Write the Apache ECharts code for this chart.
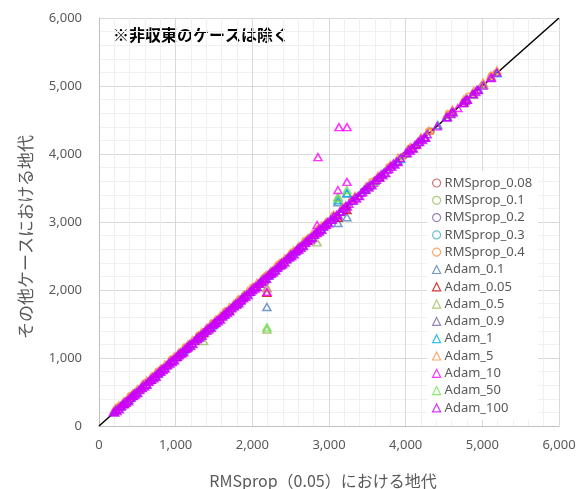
<!DOCTYPE html>
<html>
<head>
<meta charset="utf-8">
<script src="https://cdn.jsdelivr.net/npm/echarts@6/dist/echarts.min.js"></script>
<style>
  html, body { margin: 0; padding: 0; background: #fff; }
  #chart { width: 583px; height: 489px; }
</style>
</head>
<body>
<div id="chart"></div>
<script>
// Generation reached by RMSprop(0.05) (x) vs. the generation reached by each other setting (y)
const axisTicks = [0, 1000, 2000, 3000, 4000, 5000, 6000];
const diagonal = [[0, 0], [6000, 6000]];

const rmsprop008 = [[230,228],[480,476],[760,764],[1040,1036],[1310,1316],[1590,1586],[1870,1874],[2140,2136],[2420,2426],[2700,2694],[2960,2966],[3240,3234],[3610,3616],[3980,3974],[4330,4336],[4780,4774],[5180,5186]];
const rmsprop01 = [[260,266],[540,534],[820,826],[1090,1084],[1370,1376],[1650,1644],[1920,1926],[2200,2194],[2480,2486],[2750,2744],[3020,3026],[3380,3374],[3750,3756],[4100,4094],[4560,4566],[4900,4894]];
const rmsprop02 = [[210,206],[500,506],[790,784],[1070,1076],[1350,1344],[1630,1636],[1900,1894],[2180,2186],[2460,2454],[2730,2736],[3000,2994],[3300,3306],[3680,3674],[4060,4066],[4600,4594],[5010,5016]];
const rmsprop03 = [[300,296],[580,586],[860,854],[1130,1136],[1410,1404],[1690,1696],[1960,1954],[2240,2246],[2520,2514],[2790,2796],[3090,3084],[3450,3456],[3840,3834],[4200,4206],[4620,4614],[5110,5116]];
const rmsprop04 = [[250,285],[420,454],[600,636],[780,814],[950,986],[1130,1164],[1300,1336],[1480,1514],[1650,1686],[1830,1864],[2000,2036],[2180,2214],[2350,2386],[2530,2564],[2700,2736],[2880,2914],[3060,3096],[3300,3334],[3560,3596],[3780,3814],[4050,4086],[4300,4334],[4560,4596],[4820,4854],[5120,5156]];

const adam01 = [[280,284],[620,616],[960,964],[1300,1296],[1640,1644],[1980,1976],[2320,2324],[2660,2656],[2190,1750],[3117,3290],[3117,2985],[3234,3070],[3234,3420],[3520,3524],[3900,3896],[4420,4424],[4950,4946]];
const adam005 = [[330,326],[680,684],[1020,1016],[1360,1364],[1700,1696],[2040,2044],[2190,1960],[2380,2376],[2720,2724],[3117,3060],[3234,3175],[3660,3656],[4140,4144],[4760,4756]];
const adam05 = [[360,364],[710,706],[1050,1054],[1365,1250],[1420,1416],[1760,1764],[2100,2096],[2190,1420],[2440,2444],[2780,2776],[2845,2700],[3117,3370],[3560,3564],[4010,4006],[4590,4594],[5020,5016]];
const adam09 = [[390,386],[740,744],[1080,1076],[1450,1454],[1800,1796],[2160,2164],[2500,2496],[2860,2864],[3150,3146],[3700,3704],[4250,4246],[4800,4804]];
const adam1 = [[420,424],[770,766],[1110,1114],[1480,1476],[1830,1834],[2190,2030],[2220,2216],[2560,2564],[2900,2896],[3117,3320],[3234,3425],[3480,3484],[3930,3926],[4540,4544],[5190,5186]];
const adam5 = [
  [200,242],[260,304],[320,360],[380,424],[440,482],[500,544],[560,600],[620,664],[680,722],[740,784],
  [800,840],[860,904],[920,962],[980,1024],[1040,1080],[1100,1144],[1160,1202],[1220,1264],[1280,1320],[1340,1384],
  [1400,1442],[1460,1504],[1520,1560],[1580,1624],[1640,1682],[1700,1744],[1760,1800],[1820,1864],[1880,1922],[1940,1984],
  [2000,2040],[2060,2104],[2120,2162],[2180,2224],[2190,2030],[2240,2280],[2300,2344],[2360,2402],[2420,2464],[2480,2520],
  [2540,2584],[2600,2642],[2660,2704],[2720,2760],[2780,2824],[2840,2882],[2900,2944],[2960,3000],[3060,3104],[3180,3222],
  [3340,3384],[3480,3522],[3640,3684],[3800,3842],[3900,3944],[4060,4102],[4200,4244],[4300,4342],[4540,4584],[4610,4652],
  [4760,4804],[4890,4932],[5010,5052],[5110,5154],[5190,5232]
];
const adam10 = [[450,446],[800,804],[1150,1146],[1500,1504],[1850,1846],[2190,1975],[2250,2254],[2600,2596],[2845,2955],[2856,3954],[3117,3470],[3130,4395],[3234,3590],[3235,4395],[3580,3576],[4080,4084],[4680,4676],[5120,5124]];
const adam50 = [[480,484],[830,826],[1180,1184],[1530,1526],[1880,1884],[2190,1450],[2280,2276],[2630,2634],[3117,3350],[3234,3470],[3600,3596],[4180,4184],[4880,4876]];
const adam100 = [
  [190,204],[205,199],[220,240],[235,221],[250,256],[265,245],[280,290],[295,295],
  [310,324],[325,319],[340,360],[355,341],[370,376],[385,365],[400,410],[415,415],
  [430,444],[445,439],[460,480],[475,461],[490,496],[505,485],[520,530],[535,535],
  [550,564],[565,559],[580,600],[595,581],[610,616],[625,605],[640,650],[655,655],
  [670,684],[685,679],[700,720],[715,701],[730,736],[745,725],[760,770],[775,775],
  [790,804],[805,799],[820,840],[835,821],[850,856],[865,845],[880,890],[895,895],
  [910,924],[925,919],[940,960],[955,941],[970,976],[985,965],[1000,1010],[1015,1015],
  [1030,1044],[1045,1039],[1060,1080],[1075,1061],[1090,1096],[1105,1085],[1120,1130],[1135,1135],
  [1150,1164],[1165,1159],[1180,1200],[1195,1181],[1210,1216],[1225,1205],[1240,1250],[1255,1255],
  [1270,1284],[1285,1279],[1300,1320],[1315,1301],[1330,1336],[1345,1325],[1360,1370],[1375,1375],
  [1390,1404],[1405,1399],[1420,1440],[1435,1421],[1450,1456],[1465,1445],[1480,1490],[1495,1495],
  [1510,1524],[1525,1519],[1540,1560],[1555,1541],[1570,1576],[1585,1565],[1600,1610],[1615,1615],
  [1630,1644],[1645,1639],[1660,1680],[1675,1661],[1690,1696],[1705,1685],[1720,1730],[1735,1735],
  [1750,1764],[1765,1759],[1780,1800],[1795,1781],[1810,1816],[1825,1805],[1840,1850],[1855,1855],
  [1870,1884],[1885,1879],[1900,1920],[1915,1901],[1930,1936],[1945,1925],[1960,1970],[1975,1975],
  [1990,2004],[2005,1999],[2020,2040],[2035,2021],[2050,2056],[2065,2045],[2080,2090],[2095,2095],
  [2110,2124],[2125,2119],[2140,2160],[2155,2141],[2170,2176],[2185,2165],[2200,2210],[2215,2215],
  [2230,2244],[2245,2239],[2260,2280],[2275,2261],[2290,2296],[2305,2285],[2320,2330],[2335,2335],
  [2350,2364],[2365,2359],[2380,2400],[2395,2381],[2410,2416],[2425,2405],[2440,2450],[2455,2455],
  [2470,2484],[2485,2479],[2500,2520],[2515,2501],[2530,2536],[2545,2525],[2560,2570],[2575,2575],
  [2590,2604],[2605,2599],[2620,2640],[2635,2621],[2650,2656],[2665,2645],[2680,2690],[2695,2695],
  [2710,2724],[2725,2719],[2740,2760],[2755,2741],[2770,2776],[2785,2765],[2800,2810],[2815,2815],
  [2830,2844],[2845,2839],[2860,2880],[2875,2861],[2890,2896],[2905,2885],[2920,2930],[2935,2935],
  [2950,2964],[2965,2959],[2980,3000],[2995,2981],
  [3020,3034],[3040,3034],[3060,3080],[3080,3066],[3100,3106],[3120,3100],[3140,3150],[3160,3160],
  [3180,3194],[3200,3194],[3220,3240],[3240,3226],[3260,3266],
  [3300,3314],[3320,3314],[3340,3360],[3360,3346],[3380,3386],[3400,3380],[3420,3430],[3440,3440],
  [3460,3474],[3480,3474],[3500,3520],[3520,3506],[3540,3546],[3560,3540],
  [3600,3610],[3620,3620],[3640,3654],[3660,3654],[3680,3700],[3700,3686],[3720,3726],[3740,3720],
  [3760,3770],[3780,3780],[3800,3814],[3820,3814],[3840,3860],[3860,3846],[3880,3886],[3900,3880],[3930,3940],
  [4000,4014],[4020,4014],[4040,4060],[4060,4046],[4080,4086],[4100,4080],[4120,4130],[4140,4140],
  [4160,4174],[4180,4174],[4200,4220],[4220,4206],[4240,4246],[4260,4240],[4280,4290],
  [4410,4406],[4530,4540],[4545,4540],[4590,4586],[4605,4620],[4620,4612],[4740,4750],[4755,4748],
  [4775,4782],[4790,4800],[4805,4796],[4870,4880],[4885,4878],[4915,4912],[4930,4945],[4945,4940],
  [5010,5006],[5110,5118],[5190,5196]
];

const seriesDefs = [
  { name: 'RMSprop_0.08', data: rmsprop008, color: '#C0504D', shape: 'circle' },
  { name: 'RMSprop_0.1',  data: rmsprop01,  color: '#9BBB59', shape: 'circle' },
  { name: 'RMSprop_0.2',  data: rmsprop02,  color: '#8064A2', shape: 'circle' },
  { name: 'RMSprop_0.3',  data: rmsprop03,  color: '#4BACC6', shape: 'circle' },
  { name: 'RMSprop_0.4',  data: rmsprop04,  color: '#F79646', shape: 'circle' },
  { name: 'Adam_0.1',     data: adam01,     color: '#4F81BD', shape: 'triangle' },
  { name: 'Adam_0.05',    data: adam005,    color: '#CC0000', shape: 'triangle' },
  { name: 'Adam_0.5',     data: adam05,     color: '#9BBB59', shape: 'triangle' },
  { name: 'Adam_0.9',     data: adam09,     color: '#8064A2', shape: 'triangle' },
  { name: 'Adam_1',       data: adam1,      color: '#00B0F0', shape: 'triangle' },
  { name: 'Adam_5',       data: adam5,      color: '#F79646', shape: 'triangle' },
  { name: 'Adam_10',      data: adam10,     color: '#FF00FF', shape: 'triangle' },
  { name: 'Adam_50',      data: adam50,     color: '#66E64D', shape: 'triangle' },
  { name: 'Adam_100',     data: adam100,    color: '#CC00FF', shape: 'triangle' }
];

const textColor = '#595959';
const fontFamily = '"Noto Sans", "Noto Sans CJK JP", sans-serif';
const cjkFont = '"Noto Sans CJK JP", "Noto Sans", sans-serif';

const hollow = (c, w) => ({ color: 'rgba(0,0,0,0)', borderColor: c, borderWidth: w });

const chart = echarts.init(document.getElementById('chart'), null, { renderer: 'canvas' });

const series = [{
  type: 'line',
  data: diagonal,
  symbol: 'none',
  silent: true,
  lineStyle: { color: '#000', width: 1.5 },
  z: 1
}].concat(seriesDefs.map((s, i) => ({
  name: s.name,
  type: 'scatter',
  data: s.data,
  symbol: s.shape,
  symbolSize: s.shape === 'circle' ? 6 : [8, 7],
  itemStyle: hollow(s.color, 1.5),
  z: 2 + i
})));

chart.setOption({
  animation: false,
  backgroundColor: '#fff',
  grid: { left: 99, right: 24, top: 18, bottom: 63, containLabel: false },
  xAxis: {
    type: 'value', min: 0, max: 6000, interval: 1000,
    axisLine: { show: true, lineStyle: { color: '#BFBFBF', width: 1 } },
    axisTick: { show: false },
    axisLabel: {
      color: textColor, fontFamily: fontFamily, fontSize: 13, margin: 13,
      formatter: (v) => v.toLocaleString('en-US')
    },
    splitLine: { show: true, lineStyle: { color: '#D9D9D9', width: 1 } },
    minorTick: { show: false, splitNumber: 5 },
    minorSplitLine: { show: true, lineStyle: { color: '#F0F0F0', width: 1 } }
  },
  yAxis: {
    type: 'value', min: 0, max: 6000, interval: 1000,
    axisLine: { show: true, lineStyle: { color: '#BFBFBF', width: 1 } },
    axisTick: { show: false },
    axisLabel: {
      color: textColor, fontFamily: fontFamily, fontSize: 13, margin: 17,
      formatter: (v) => v.toLocaleString('en-US')
    },
    splitLine: { show: true, lineStyle: { color: '#D9D9D9', width: 1 } },
    minorTick: { show: false, splitNumber: 5 },
    minorSplitLine: { show: true, lineStyle: { color: '#F0F0F0', width: 1 } }
  },
  legend: {
    orient: 'vertical',
    left: 427, top: 171,
    padding: [5, 6, 5, 5],
    backgroundColor: '#fff',
    itemWidth: 8, itemHeight: 8, itemGap: 3.3,
    textStyle: { color: textColor, fontFamily: fontFamily, fontSize: 13, lineHeight: 14, padding: [0, 0, 0, -1] },
    data: seriesDefs.map(s => ({ name: s.name, icon: s.shape, itemStyle: hollow(s.color, 1.2) }))
  },
  graphic: [
    {
      type: 'text', left: 113, top: 27,
      style: { text: '※非収東のケースは除く', fill: '#000', font: 'bold 16px ' + cjkFont }
    },
    {
      type: 'text', x: 323, y: 481,
      style: { text: 'RMSprop（0.05）における地代', fill: textColor, font: '16px ' + cjkFont, align: 'center', verticalAlign: 'middle' }
    },
    {
      type: 'text', x: 26, y: 237, rotation: Math.PI / 2,
      style: { text: 'その他ケースにおける地代', fill: textColor, font: '17px ' + cjkFont, align: 'center', verticalAlign: 'middle' }
    }
  ],
  series: series
});
</script>
</body>
</html>
